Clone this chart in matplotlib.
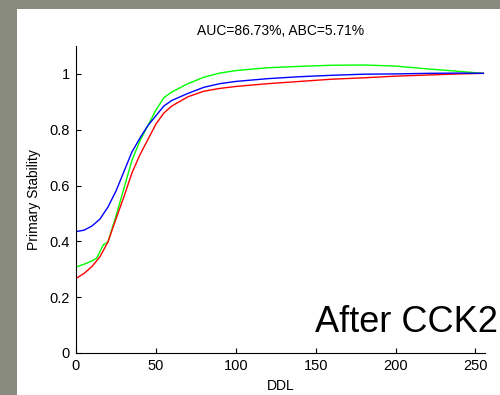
import matplotlib
matplotlib.use("Agg")
import matplotlib.pyplot as plt
from matplotlib.patches import Rectangle

plt.rcParams['font.family'] = ['Liberation Sans', 'DejaVu Sans']

# data
ddl = [0, 5, 10, 15, 20, 25, 30, 35, 40, 45, 50, 55, 60, 70, 80, 90, 100,
       120, 140, 160, 180, 200, 220, 240, 255]
blue_vals = [0.435, 0.44, 0.455, 0.48, 0.523, 0.58, 0.65, 0.72, 0.77, 0.815,
             0.85, 0.885, 0.905, 0.93, 0.952, 0.965, 0.973, 0.983, 0.99,
             0.995, 0.999, 1.0, 1.002, 1.003, 1.002]
green_ddl = [0, 5, 10, 13, 17, 20, 25, 30, 35, 40, 45, 50, 55, 60, 70, 80,
             90, 100, 120, 140, 160, 180, 200, 220, 240, 255]
green_vals = [0.308, 0.318, 0.33, 0.34, 0.387, 0.398, 0.49, 0.59, 0.69, 0.76,
              0.815, 0.87, 0.915, 0.935, 0.965, 0.988, 1.003, 1.012, 1.022,
              1.027, 1.031, 1.032, 1.028, 1.018, 1.009, 1.002]
red_vals = [0.267, 0.285, 0.31, 0.345, 0.398, 0.48, 0.56, 0.645, 0.71, 0.765,
            0.82, 0.86, 0.885, 0.918, 0.938, 0.948, 0.955, 0.965, 0.973,
            0.981, 0.986, 0.992, 0.996, 1.0, 1.002]
title_text = "AUC=86.73%, ABC=5.71%"
overlay_text = "After CCK2"
xticks = [0, 50, 100, 150, 200, 250]
yticks = [0, 0.2, 0.4, 0.6, 0.8, 1.0]
ytick_labels = ["0", "0.2", "0.4", "0.6", "0.8", "1"]

W, H = 500, 395
gray = '#898b7e'
fig = plt.figure(figsize=(W / 100, H / 100), dpi=100)
fig.patch.set_facecolor('white')
# gray slide border (left strip and top strip)
fig.patches.append(Rectangle((0, 0), 17 / W, 1, transform=fig.transFigure,
                             facecolor=gray, edgecolor='none'))
fig.patches.append(Rectangle((0, (H - 9) / H), 1, 9 / H, transform=fig.transFigure,
                             facecolor=gray, edgecolor='none'))

ax = fig.add_axes([76 / W, (H - 353) / H, (485 - 76) / W, (353 - 46) / H])
ax.patch.set_alpha(0)
ax.plot(green_ddl, green_vals, color=(0, 1, 0), lw=1.0)
ax.plot(ddl, red_vals, color=(1, 0, 0), lw=1.0)
ax.plot(ddl, blue_vals, color=(0, 0, 1), lw=1.0)

ax.set_xlim(0, 256)
ax.set_ylim(0, 1.1)
ax.set_xticks(xticks)
ax.set_yticks(yticks)
ax.set_yticklabels(ytick_labels)
for s in ['top', 'right']:
    ax.spines[s].set_visible(False)
for s in ['left', 'bottom']:
    ax.spines[s].set_linewidth(0.8)
ax.tick_params(direction='in', length=3.5, width=0.8, labelsize=10.5, pad=4.5)

ax.set_title(title_text, fontsize=10, pad=8)
ax.set_xlabel("DDL", fontsize=10, labelpad=4)
ax.set_ylabel("Primary Stability", fontsize=10, labelpad=6)

fig.text(315 / W, (H - 332) / H, overlay_text, fontsize=26, ha='left',
         va='baseline', color='black')

fig.savefig("out.png", dpi=100, facecolor=fig.get_facecolor())
